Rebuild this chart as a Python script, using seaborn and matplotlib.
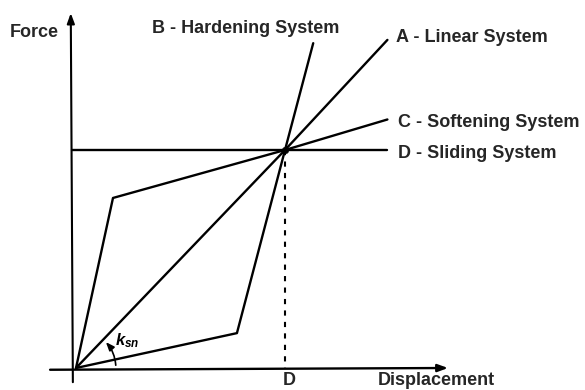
import numpy as np
import pandas as pd
import matplotlib
matplotlib.use("Agg")
import matplotlib.pyplot as plt
from matplotlib.patches import FancyArrowPatch
import seaborn as sns

# ---- data (schematic units: D = 1 displacement, force at D = 1) ----
systems = ["A - Linear System", "B - Hardening System",
           "C - Softening System", "D - Sliding System"]
A_disp = [0.0, 1.0, 1.49]
A_force = [0.0, 1.0, 1.505]
B_disp = [0.0, 0.77, 1.0, 1.135]
B_force = [0.0, 0.16, 1.0, 1.49]
C_disp = [0.0, 0.177, 1.0, 1.49]
C_force = [0.0, 0.78, 1.0, 1.14]
D_disp = [-0.02, 1.0, 1.49]
D_force = [1.0, 1.0, 1.0]
cross_disp = [1.0]
cross_force = [1.0]
x_label = "Displacement"
y_label = "Force"
d_label = "D"

series = [(A_disp, A_force), (B_disp, B_force), (C_disp, C_force), (D_disp, D_force)]
rows = []
for name, (xs, ys) in zip(systems, series):
    for i, (x, y) in enumerate(zip(xs, ys)):
        rows.append({"system": name, "order": i, "disp": x, "force": y})
df = pd.DataFrame(rows)

sns.set_style("white")
plt.rcParams["font.family"] = ["Liberation Sans", "DejaVu Sans"]
plt.rcParams["mathtext.fontset"] = "custom"
plt.rcParams["mathtext.it"] = "Liberation Sans:italic:bold"
plt.rcParams["mathtext.rm"] = "Liberation Sans:bold"

fig = plt.figure(figsize=(5.85, 3.9), dpi=100)
ax = fig.add_axes([0, 0, 1, 1])
ax.set_xlim(-76 / 209, (585 - 76) / 209)
ax.set_ylim((368 - 390) / 218, 368 / 218)
ax.axis("off")

sns.lineplot(data=df, x="disp", y="force", units="system", estimator=None,
             sort=False, color="black", linewidth=1.7, ax=ax, legend=False)

# dashed drop line at D
ax.plot([cross_disp[0], cross_disp[0]], [cross_force[0], 0], color="black",
        linewidth=1.5, linestyle=(0, (2.5, 3)))
sns.scatterplot(x=cross_disp, y=cross_force, color="black", s=22,
                edgecolor="black", ax=ax, zorder=5)

# axes arrows
ax.annotate("", xy=(-0.025, 1.628), xytext=(-0.015, -0.065),
            arrowprops=dict(arrowstyle="-|>,head_length=0.6,head_width=0.22",
                            color="black", lw=1.5, shrinkA=0, shrinkB=0))
ax.annotate("", xy=(1.78, 0.0), xytext=(-0.124, -0.008),
            arrowprops=dict(arrowstyle="-|>,head_length=0.6,head_width=0.22",
                            color="black", lw=1.7, shrinkA=0, shrinkB=0))

# stiffness arc
arc = FancyArrowPatch((0.191, 0.0), (0.134, 0.128),
                      connectionstyle="arc3,rad=0.2",
                      arrowstyle="-|>,head_length=0.5,head_width=0.2",
                      mutation_scale=10, color="black", lw=1.2)
ax.add_patch(arc)
ax.text(0.187, 0.1055, r"$k_{sn}$", fontsize=12, color="black",
        ha="left", va="baseline")

fs = 13
fw = "bold"
ax.text(-0.316, 1.518, y_label, fontsize=fs, fontweight=fw, va="baseline", ha="left")
ax.text(0.364, 1.537, systems[1], fontsize=fs, fontweight=fw, va="baseline", ha="left")
ax.text(1.531, 1.495, systems[0], fontsize=fs, fontweight=fw, va="baseline", ha="left")
ax.text(1.541, 1.106, systems[2], fontsize=fs, fontweight=fw, va="baseline", ha="left")
ax.text(1.541, 0.963, systems[3], fontsize=fs, fontweight=fw, va="baseline", ha="left")
ax.text(1.019, -0.076, d_label, fontsize=fs, fontweight=fw, va="baseline", ha="center")
ax.text(1.445, -0.076, x_label, fontsize=fs, fontweight=fw, va="baseline", ha="left")

fig.savefig("out.png", dpi=100)
